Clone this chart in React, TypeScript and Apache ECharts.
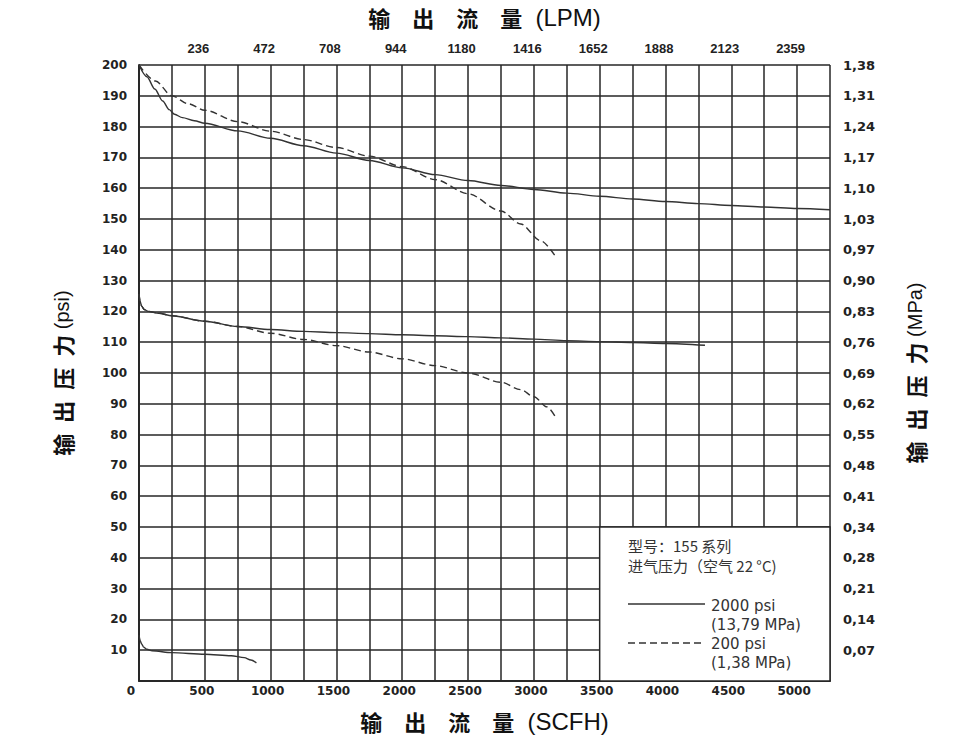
import React, { useEffect, useRef } from 'react';
import * as echarts from 'echarts';

// ---- axes ----
const scfhMin = 0;
const scfhMax = 5250;
const scfhStep = 250;
const scfhLabelStep = 500;
const psiMin = 0;
const psiMax = 200;
const psiStep = 10;

const lpmLabels = ['236', '472', '708', '944', '1180', '1416', '1652', '1888', '2123', '2359'];
const mpaLabels = [
  '0,07', '0,14', '0,21', '0,28', '0,34', '0,41', '0,48', '0,55', '0,62', '0,69',
  '0,76', '0,83', '0,90', '0,97', '1,03', '1,10', '1,17', '1,24', '1,31', '1,38',
];

// ---- series (x: SCFH, y: psi) ----
const solidUpper: [number, number][] = [
  [0, 200], [60, 196.2], [120, 192.2], [180, 188.3], [230, 185.5], [270, 184],
  [330, 182.9], [420, 181.9], [500, 181.1], [750, 178.6], [1000, 176.2],
  [1250, 173.8], [1500, 171.4], [1750, 169], [2000, 166.6], [2250, 164.4],
  [2500, 162.5], [2750, 160.9], [3000, 159.6], [3250, 158.4], [3500, 157.4],
  [3750, 156.5], [4000, 155.7], [4250, 155], [4500, 154.4], [4750, 153.9],
  [5000, 153.4], [5250, 153],
];
const dashedUpper: [number, number][] = [
  [0, 200], [125, 194.8], [250, 190], [375, 187.4], [500, 185.3], [750, 181.6],
  [1000, 178.5], [1250, 175.8], [1500, 173.2], [1750, 170.4], [2000, 167],
  [2250, 162.8], [2500, 158.2], [2750, 152.6], [2900, 148.4], [3050, 143], [3170, 137.5],
];
const solidMiddle: [number, number][] = [
  [0, 125.7], [8, 123.4], [20, 121.7], [40, 120.6], [70, 120], [150, 119.4],
  [250, 118.6], [500, 116.8], [750, 115.1], [1000, 114.1], [1250, 113.5],
  [1500, 113.1], [1750, 112.8], [2000, 112.4], [2250, 112.1], [2500, 111.8],
  [2750, 111.4], [3000, 111], [3250, 110.5], [3500, 110.2], [3750, 109.9],
  [4000, 109.6], [4300, 109],
];
const dashedMiddle: [number, number][] = [
  [0, 125.7], [8, 123.4], [20, 121.7], [40, 120.6], [70, 120], [150, 119.4],
  [250, 118.6], [500, 116.8], [750, 115.1], [1000, 112.9], [1250, 110.9],
  [1500, 108.9], [1750, 106.8], [2000, 104.6], [2250, 102.4], [2500, 100],
  [2750, 97], [2900, 94.6], [3000, 92.3], [3100, 89], [3160, 86],
];
const solidLower: [number, number][] = [
  [0, 14.9], [10, 13], [20, 12], [35, 11], [60, 10.3], [100, 9.8], [250, 9.2],
  [500, 8.7], [700, 8.2], [800, 7.6], [850, 6.8], [892, 5.9],
];

// legend box region in data units
const legendBoxFrom: [number, number] = [3500, 0];
const legendBoxTo: [number, number] = [5250, 50];

const solidName = '2000 psi (13,79 MPa)';
const dashedName = '200 psi (1,38 MPa)';

const gridColor = '#262626';
const curveColor = '#333';
const textColor = '#222';
const cjk = '"Noto Sans CJK SC", "Noto Sans", sans-serif';
const latin = '"Liberation Sans", Arial, sans-serif';
const tickFont = '"DejaVu Sans", sans-serif';
const narrowFont = '"Liberation Sans Narrow", "Liberation Sans", Arial, sans-serif';

const hNameRich = {
  c: { fontFamily: cjk, fontWeight: 'bold', fontSize: 22, color: '#111' },
  l: { fontFamily: latin, fontWeight: 'normal', fontSize: 24, color: '#111' },
};
const vNameRich = {
  c: { fontFamily: cjk, fontWeight: 'bold', fontSize: 22, color: '#111' },
  l: { fontFamily: latin, fontWeight: 'normal', fontSize: 20, color: '#111' },
};

function lineSeries(name: string, data: [number, number][], dashed: boolean, extra: any = {}) {
  return {
    type: 'line',
    name,
    data,
    symbol: 'none',
    smooth: 0.3,
    smoothMonotone: 'x',
    silent: true,
    z: 3,
    lineStyle: { color: curveColor, width: 1.4, type: dashed ? [7, 4] : 'solid' },
    ...extra,
  };
}

export default function App() {
  const ref = useRef<HTMLDivElement>(null);
  useEffect(() => {
    if (!ref.current) return;
    const chart = echarts.init(ref.current, undefined, { renderer: 'svg' });
    const option: any = {
      animation: false,
      backgroundColor: '#fff',
      grid: { left: 139, right: 150, top: 64, bottom: 59 },
      xAxis: [
        {
          type: 'value',
          position: 'bottom',
          min: scfhMin,
          max: scfhMax,
          interval: scfhStep,
          axisLine: { show: true, lineStyle: { color: gridColor, width: 1.6 } },
          axisTick: { show: false },
          splitLine: { show: true, lineStyle: { color: gridColor, width: 1.5 } },
          axisLabel: {
            margin: 4,
            padding: [0, 6, 0, 0],
            fontFamily: tickFont,
            fontWeight: 'bold',
            fontSize: 12,
            color: textColor,
            formatter: (v: number) =>
              v % scfhLabelStep === 0 ? (v === 0 ? '{z|0}' : String(v)) : '',
            rich: {
              z: { padding: [0, 10, 0, 0], fontFamily: tickFont, fontWeight: 'bold', fontSize: 12, color: textColor },
            },
          },
          name: '{c|输\u3000出\u3000流\u3000量}{l|  (SCFH)}',
          nameLocation: 'middle',
          nameGap: 28,
          nameTextStyle: { rich: hNameRich },
        },
        {
          type: 'value',
          position: 'top',
          min: scfhMin,
          max: scfhMax,
          interval: scfhStep,
          axisLine: { show: true, lineStyle: { color: gridColor, width: 1.6 } },
          axisTick: { show: false },
          splitLine: { show: false },
          axisLabel: {
            margin: 10,
            padding: [0, 13, 0, 0],
            fontFamily: narrowFont,
            fontWeight: 'bold',
            fontSize: 13,
            color: textColor,
            formatter: (v: number) =>
              v > 0 && v % scfhLabelStep === 0 ? lpmLabels[v / scfhLabelStep - 1] ?? '' : '',
          },
          name: '{c|输\u3000出\u3000流\u3000量}{l|  (LPM)}',
          nameLocation: 'middle',
          nameGap: 36,
          nameTextStyle: { rich: hNameRich },
        },
      ],
      yAxis: [
        {
          type: 'value',
          position: 'left',
          min: psiMin,
          max: psiMax,
          interval: psiStep,
          axisLine: { show: true, lineStyle: { color: gridColor, width: 1.6 } },
          axisTick: { show: false },
          splitLine: { show: true, lineStyle: { color: gridColor, width: 1.5 } },
          axisLabel: {
            margin: 12,
            fontFamily: tickFont,
            fontWeight: 'bold',
            fontSize: 12,
            color: textColor,
            formatter: (v: number) => (v === 0 ? '' : String(v)),
          },
          name: '{c|输\u2002出\u2002压\u2002力}{l| (psi)}',
          nameLocation: 'middle',
          nameRotate: 90,
          nameGap: 66,
          nameTextStyle: { rich: vNameRich },
        },
        {
          type: 'value',
          position: 'right',
          min: psiMin,
          max: psiMax,
          interval: psiStep,
          axisLine: { show: true, lineStyle: { color: gridColor, width: 1.6 } },
          axisTick: { show: false },
          splitLine: { show: false },
          axisLabel: {
            margin: 13,
            fontFamily: tickFont,
            fontWeight: 'bold',
            fontSize: 13,
            color: textColor,
            formatter: (v: number) => (v > 0 ? mpaLabels[v / psiStep - 1] ?? '' : ''),
          },
          name: '{c|输\u2002出\u2002压\u2002力}{l| (MPa)}',
          nameLocation: 'middle',
          nameRotate: 90,
          nameGap: 74,
          nameTextStyle: { rich: vNameRich },
        },
      ],
      series: [
        lineSeries(solidName, solidUpper, false),
        lineSeries(dashedName, dashedUpper, true),
        lineSeries(solidName, solidMiddle, false),
        lineSeries(dashedName, dashedMiddle, true),
        lineSeries(solidName, solidLower, false, {
          markArea: {
            silent: true,
            z: 4,
            itemStyle: { color: '#fff', borderColor: gridColor, borderWidth: 1.5 },
            label: { show: false },
            data: [[{ coord: legendBoxFrom }, { coord: legendBoxTo }]],
          },
        }),
      ],
      graphic: [
        {
          type: 'text',
          z: 100,
          x: 628,
          y: 535,
          style: {
            text: '型号：155 系列\n进气压力（空气 22 °C)',
            fontFamily: cjk,
            fontSize: 15,
            lineHeight: 20,
            fill: '#333',
            verticalAlign: 'top',
          },
        },
        {
          type: 'line',
          z: 100,
          shape: { x1: 628, y1: 604, x2: 705, y2: 604 },
          style: { stroke: curveColor, lineWidth: 1.4 },
        },
        {
          type: 'text',
          z: 100,
          x: 711,
          y: 596,
          style: {
            text: '2000 psi\n(13,79 MPa)',
            fontFamily: '"DejaVu Sans", sans-serif',
            fontSize: 15,
            lineHeight: 19,
            fill: '#333',
            verticalAlign: 'top',
          },
        },
        {
          type: 'line',
          z: 100,
          shape: { x1: 628, y1: 643, x2: 705, y2: 643 },
          style: { stroke: curveColor, lineWidth: 1.4, lineDash: [7, 4] },
        },
        {
          type: 'text',
          z: 100,
          x: 711,
          y: 634,
          style: {
            text: '200 psi\n(1,38 MPa)',
            fontFamily: '"DejaVu Sans", sans-serif',
            fontSize: 15,
            lineHeight: 19,
            fill: '#333',
            verticalAlign: 'top',
          },
        },
      ],
    };
    chart.setOption(option);
    return () => chart.dispose();
  }, []);
  return (
    <div
      ref={ref}
      style={{ position: 'fixed', left: 0, top: 0, width: 980, height: 740, background: '#fff' }}
    />
  );
}
